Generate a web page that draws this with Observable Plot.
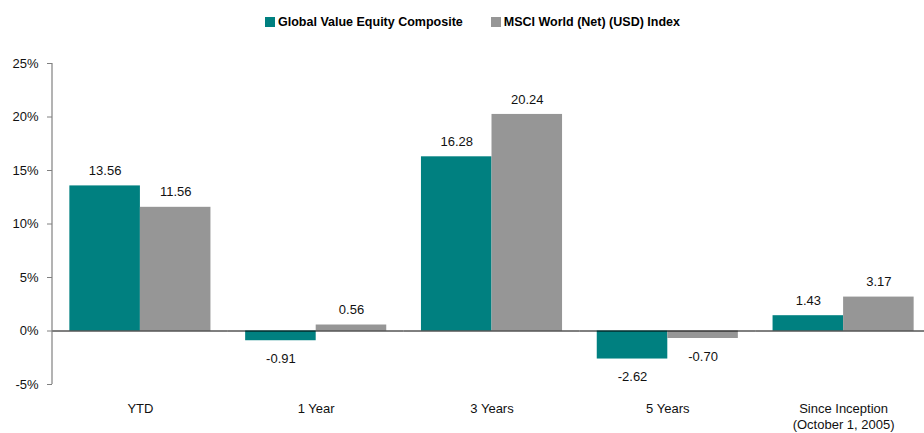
<!DOCTYPE html>
<html><head><meta charset="utf-8">
<script src="https://cdn.jsdelivr.net/npm/d3@7"></script>
<script src="https://cdn.jsdelivr.net/npm/@observablehq/plot@0.6"></script>
<style>
body{margin:0;background:#fff;font-family:"Liberation Sans",Arial,sans-serif;}
#legend{height:36px;display:flex;justify-content:center;align-items:center;gap:28px;font-weight:bold;font-size:12.5px;padding-left:21px;padding-top:8px;box-sizing:border-box;color:#000;white-space:nowrap;}
#legend span.item{display:inline-flex;align-items:center;}
#legend span.sw{display:inline-block;width:10px;height:10px;margin-right:3px;}
</style>
</head><body>
<div id="legend"></div>
<div id="chart"></div>
<script>
const categories = ["YTD", "1 Year", "3 Years", "5 Years", "Since Inception\n(October 1, 2005)"];
const series = ["Global Value Equity Composite", "MSCI World (Net) (USD) Index"];
const composite = [13.56, -0.91, 16.28, -2.62, 1.43];
const msci = [11.56, 0.56, 20.24, -0.70, 3.17];
const yTicks = [-5, 0, 5, 10, 15, 20, 25];
const colors = ["#008080", "#969696"];

const rows = [];
categories.forEach((c, i) => {
  rows.push({cat: c, series: series[0], value: composite[i]});
  rows.push({cat: c, series: series[1], value: msci[i]});
});

const legend = d3.select("#legend");
series.forEach((s, i) => {
  const it = legend.append("span").attr("class", "item");
  it.append("span").attr("class", "sw").style("background", colors[i]);
  it.append("span").text(s);
});

const marginLeft = 52;
const chart = Plot.plot({
  width: 924, height: 397,
  marginLeft, marginRight: -7, marginTop: 27, marginBottom: 49,
  style: {fontFamily: "Liberation Sans, Arial, sans-serif", fontSize: "13px", color: "#000", background: "#fff"},
  fx: {domain: categories, padding: 0, round: false, label: null},
  x: {domain: series, paddingInner: 0, paddingOuter: 0.246, round: false, axis: null},
  y: {domain: [-5, 25], label: null, axis: null},
  color: {domain: series, range: colors},
  marks: [
    Plot.barY(rows, {fx: "cat", x: "series", y: "value", fill: "series"}),
    Plot.ruleY([0], {stroke: "#000", strokeWidth: 1}),
    Plot.text(rows.filter(d => d.value >= 0), {fx: "cat", x: "series", y: "value", text: d => d.value.toFixed(2), dy: -15, fill: "#111"}),
    Plot.text(rows.filter(d => d.value < 0), {fx: "cat", x: "series", y: "value", text: d => d.value.toFixed(2), dy: 18, fill: "#111"}),
    Plot.axisY(yTicks, {tickFormat: d => d + "%", tickSize: 5, tickPadding: 9, stroke: "#808080", fill: "#111", label: null}),
    Plot.axisFx({anchor: "bottom", tickSize: 0, tickPadding: 17, lineHeight: 1.25, label: null, fill: "#111"})
  ]
});
const y = chart.scale("y");
d3.select(chart).append("line")
  .attr("x1", marginLeft).attr("x2", marginLeft)
  .attr("y1", y.apply(25)).attr("y2", y.apply(-5))
  .attr("stroke", "#808080").attr("stroke-width", 1.2);
document.getElementById("chart").appendChild(chart);
</script>
</body></html>
